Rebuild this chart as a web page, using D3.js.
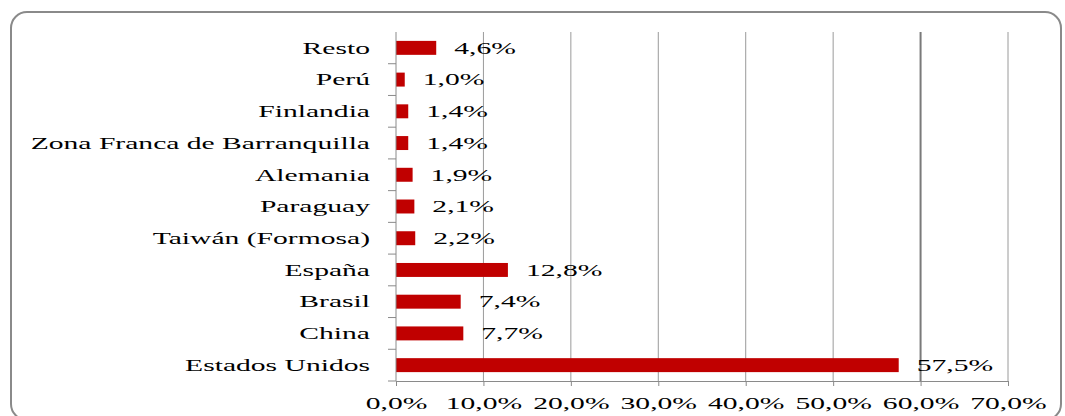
<!DOCTYPE html>
<html>
<head>
<meta charset="utf-8">
<script src="https://cdn.jsdelivr.net/npm/d3@7"></script>
<style>
  body { margin: 0; background: #fff; }
</style>
</head>
<body>
<script>
// data, top to bottom as in the chart
let paises = ["Resto", "Perú", "Finlandia", "Zona Franca de Barranquilla", "Alemania",
  "Paraguay", "Taiwán (Formosa)", "España", "Brasil", "China", "Estados Unidos"];
let valores = [4.6, 1.0, 1.4, 1.4, 1.9, 2.1, 2.2, 12.8, 7.4, 7.7, 57.5];
let ticks = [0, 10, 20, 30, 40, 50, 60, 70];

let W = 1065, H = 416;
let margin = {top: 32, left: 396, right: W - 1008, bottom: H - 381};
let stretch = 1.85;
let serif = "'Liberation Serif'";

let fmt = v => v.toFixed(1).replace(".", ",") + "%";

let svg = d3.select("body").append("svg")
    .attr("width", W)
    .attr("height", H);

// rounded frame
svg.append("rect")
    .attr("x", 11).attr("y", 12)
    .attr("width", 1050).attr("height", 408)
    .attr("rx", 16)
    .attr("fill", "none")
    .attr("stroke", "#8a8a8a")
    .attr("stroke-width", 2);

let x = d3.scaleLinear()
    .domain([0, 70])
    .range([margin.left, W - margin.right]);

let y = d3.scaleBand()
    .domain(paises)
    .range([margin.top, H - margin.bottom])
    .paddingInner(0.56)
    .paddingOuter(0.28);

// gridlines
svg.append("g").selectAll("line")
    .data(ticks.slice(1))
    .enter().append("line")
    .attr("x1", d => x(d)).attr("x2", d => x(d))
    .attr("y1", margin.top).attr("y2", H - margin.bottom)
    .attr("stroke", d => d == 60 ? "#7a7a7a" : "#9a9a9a")
    .attr("stroke-width", d => d == 60 ? 2 : 1);

// bars
svg.append("g").selectAll("rect")
    .data(valores)
    .enter().append("rect")
    .attr("x", x(0))
    .attr("y", (d, i) => y(paises[i]))
    .attr("width", d => x(d) - x(0))
    .attr("height", y.bandwidth())
    .attr("fill", "#c00000");

// value labels
svg.append("g").selectAll("text")
    .data(valores)
    .enter().append("text")
    .attr("transform", (d, i) => "translate(" + (x(d) + 18) + "," + (y(paises[i]) + y.bandwidth() / 2) + ") scale(" + stretch + ",1)")
    .attr("dy", "0.36em")
    .style("font-family", serif)
    .style("font-size", "16px")
    .attr("fill", "#000")
    .text(d => fmt(d));

// x axis
let xAxis = svg.append("g")
    .attr("transform", "translate(0," + (H - margin.bottom) + ")")
    .call(d3.axisBottom(x).tickValues(ticks).tickSize(5).tickFormat(""));
xAxis.select(".domain").attr("stroke", "#8a8a8a");
xAxis.selectAll(".tick line").attr("stroke", "#8a8a8a");
xAxis.selectAll(".tick").append("text")
    .attr("transform", "translate(0,28) scale(" + stretch + ",1)")
    .attr("text-anchor", "middle")
    .style("font-family", serif)
    .style("font-size", "16px")
    .attr("fill", "#000")
    .text(d => fmt(d));

// y axis, ticks between categories
let yAxis = svg.append("g")
    .attr("transform", "translate(" + margin.left + ",0)");
yAxis.append("line")
    .attr("y1", margin.top).attr("y2", H - margin.bottom)
    .attr("stroke", "#8a8a8a");
let step = y.step();
yAxis.selectAll(".sep")
    .data(d3.range(1, paises.length + 1))
    .enter().append("line")
    .attr("class", "sep")
    .attr("x1", -8).attr("x2", 0)
    .attr("y1", d => margin.top + d * step)
    .attr("y2", d => margin.top + d * step)
    .attr("stroke", "#8a8a8a");

// category labels
yAxis.selectAll(".cat")
    .data(paises)
    .enter().append("text")
    .attr("class", "cat")
    .attr("transform", d => "translate(-26," + (y(d) + y.bandwidth() / 2) + ") scale(" + stretch + ",1)")
    .attr("dy", "0.36em")
    .attr("text-anchor", "end")
    .style("font-family", serif)
    .style("font-size", "16px")
    .attr("fill", "#000")
    .text(d => d);
</script>
</body>
</html>
